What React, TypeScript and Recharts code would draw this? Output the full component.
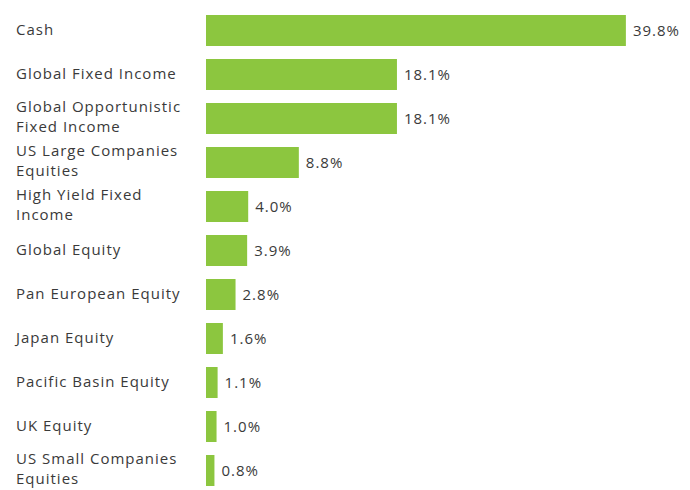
import React from 'react';
import { BarChart, Bar, XAxis, YAxis, LabelList } from 'recharts';

const categories = [
  'Cash',
  'Global Fixed Income',
  'Global Opportunistic Fixed Income',
  'US Large Companies Equities',
  'High Yield Fixed Income',
  'Global Equity',
  'Pan European Equity',
  'Japan Equity',
  'Pacific Basin Equity',
  'UK Equity',
  'US Small Companies Equities',
];
const weights = [39.8, 18.1, 18.1, 8.8, 4.0, 3.9, 2.8, 1.6, 1.1, 1.0, 0.8];

const data = categories.map((name, i) => ({ name, value: weights[i] }));

const FONT = '"Open Sans", sans-serif';
const TEXT = '#3a3a3a';

// break a label into lines of at most maxChars characters
const wrap = (text: string, maxChars = 20) => {
  const lines: string[] = [];
  let cur = '';
  text.split(' ').forEach((w) => {
    const next = cur ? cur + ' ' + w : w;
    if (next.length > maxChars && cur) {
      lines.push(cur);
      cur = w;
    } else {
      cur = next;
    }
  });
  if (cur) lines.push(cur);
  return lines;
};

const CategoryTick = (props: any) => {
  const { y, payload } = props;
  const lines = wrap(payload.value);
  const lh = 20;
  const start = -((lines.length - 1) * lh) / 2 - (lines.length > 1 ? 2 : 1);
  return (
    <text x={16} y={y} fill={TEXT} fontSize={15} fontFamily={FONT} letterSpacing={1} textAnchor="start">
      {lines.map((l, i) => (
        <tspan key={i} x={16} dy={i === 0 ? start : lh} dominantBaseline="central">
          {l}
        </tspan>
      ))}
    </text>
  );
};

export default function App() {
  return (
    <div style={{ position: 'absolute', left: 0, top: 0, width: 690, height: 490, overflow: 'hidden', background: '#fff' }}>
      <BarChart
        width={690}
        height={492}
        data={data}
        layout="vertical"
        margin={{ top: 8, right: 62, left: 0, bottom: 0 }}
        barCategoryGap={0}
      >
        <XAxis type="number" domain={[0, 40]} hide />
        <YAxis
          type="category"
          dataKey="name"
          width={206}
          axisLine={false}
          tickLine={false}
          interval={0}
          tick={<CategoryTick />}
        />
        <Bar dataKey="value" fill="#8cc63f" barSize={31} isAnimationActive={false}>
          <LabelList
            dataKey="value"
            position="right"
            offset={7}
            formatter={(v: any) => `${Number(v).toFixed(1)}%`}
            style={{ fill: TEXT, fontSize: 15, fontFamily: FONT, letterSpacing: 1 }}
          />
        </Bar>
      </BarChart>
    </div>
  );
}
